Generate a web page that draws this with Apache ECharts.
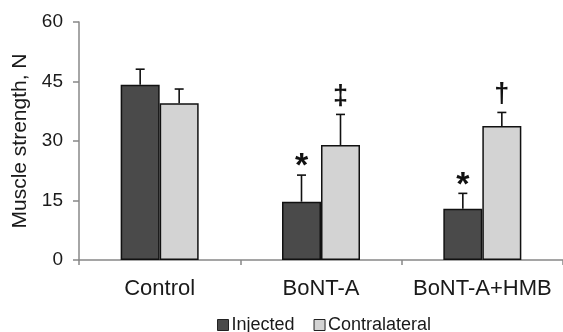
<!DOCTYPE html>
<html><head><meta charset="utf-8">
<script src="https://cdn.jsdelivr.net/npm/echarts@6/dist/echarts.min.js"></script>
<style>html,body{margin:0;padding:0;background:#fff}#c{width:563px;height:332px}</style>
</head><body><div id="c"></div>
<script>
var categories = ['Control', 'BoNT-A', 'BoNT-A+HMB'];
var injected = [44.2, 14.7, 12.9];
var contralateral = [39.5, 29.0, 33.8];
var injectedErr = [3.9, 6.7, 3.9];
var contralateralErr = [3.6, 7.7, 3.4];
var injectedMarks = ['', '*', '*'];
var contralateralMarks = ['', '‡', '†'];
var yTicks = [0, 15, 30, 45, 60];

var BAR_W = 39;
var font = 'Liberation Sans, Arial, sans-serif';

function errSeries(vals, errs, marks, side) {
  return {
    type: 'custom',
    z: 10,
    data: vals.map(function (v, i) { return [i, v, errs[i]]; }),
    encode: { x: 0, y: 1 },
    renderItem: function (params, api) {
      var i = api.value(0), v = api.value(1), e = api.value(2);
      var mark = marks[params.dataIndex];
      var base = api.coord([i, v]);
      var top = api.coord([i, v + e]);
      var x = base[0] + side * BAR_W / 2;
      var children = [
        { type: 'line', shape: { x1: x, y1: base[1], x2: x, y2: top[1] }, style: { stroke: '#111', lineWidth: 1.6 } },
        { type: 'line', shape: { x1: x - 4.5, y1: top[1], x2: x + 4.5, y2: top[1] }, style: { stroke: '#111', lineWidth: 1.6 } }
      ];
      if (mark) {
        var isStar = mark === '*';
        children.push({
          type: 'text',
          style: {
            text: mark, x: x, y: top[1] + (isStar ? 9 : -4),
            align: 'center', verticalAlign: 'bottom',
            font: (isStar ? 'bold 34px ' : 'bold 27px ') + font, fill: '#111'
          }
        });
      }
      return { type: 'group', children: children };
    }
  };
}

var chart = echarts.init(document.getElementById('c'), null, { renderer: 'canvas' });
chart.setOption({
  animation: false,
  backgroundColor: '#fff',
  grid: { left: 79, top: 22, width: 489, height: 238, containLabel: false },
  legend: {
    left: 212, top: 311, itemWidth: 11, itemHeight: 11, itemGap: 19,
    textStyle: { fontFamily: font, fontSize: 18, color: '#1a1a1a', padding: [0, 0, 0, -2] },
    data: [
      { name: 'Injected', icon: 'rect', itemStyle: { color: '#4a4a4a', borderColor: '#222', borderWidth: 1 } },
      { name: 'Contralateral', icon: 'rect', itemStyle: { color: '#d3d3d3', borderColor: '#222', borderWidth: 1 } }
    ]
  },
  xAxis: {
    type: 'category', data: categories,
    axisLine: { lineStyle: { color: '#888', width: 1.5 } },
    axisTick: { show: true, length: 5, lineStyle: { color: '#888', width: 1.5 } },
    axisLabel: { fontFamily: font, fontSize: 22, color: '#1a1a1a', margin: 18, interval: 0, hideOverlap: false }
  },
  yAxis: {
    type: 'value', min: yTicks[0], max: yTicks[yTicks.length - 1], interval: 15,
    name: 'Muscle strength, N', nameLocation: 'middle', nameGap: 47, nameRotate: 90,
    nameTextStyle: { fontFamily: font, fontSize: 21, color: '#1a1a1a' },
    axisLine: { show: true, lineStyle: { color: '#888', width: 1.5 } },
    axisTick: { show: true, length: 6, lineStyle: { color: '#888', width: 1.5 } },
    splitLine: { show: false },
    axisLabel: { fontFamily: font, fontSize: 19, color: '#1a1a1a', margin: 16 }
  },
  series: [
    { name: 'Injected', type: 'bar', data: injected, barWidth: BAR_W, barGap: '0%',
      itemStyle: { color: '#4a4a4a', borderColor: '#111', borderWidth: 1.5 } },
    { name: 'Contralateral', type: 'bar', data: contralateral, barWidth: BAR_W, barGap: '0%',
      itemStyle: { color: '#d3d3d3', borderColor: '#111', borderWidth: 1.5 } },
    errSeries(injected, injectedErr, injectedMarks, -1),
    errSeries(contralateral, contralateralErr, contralateralMarks, 1)
  ]
});
</script></body></html>
